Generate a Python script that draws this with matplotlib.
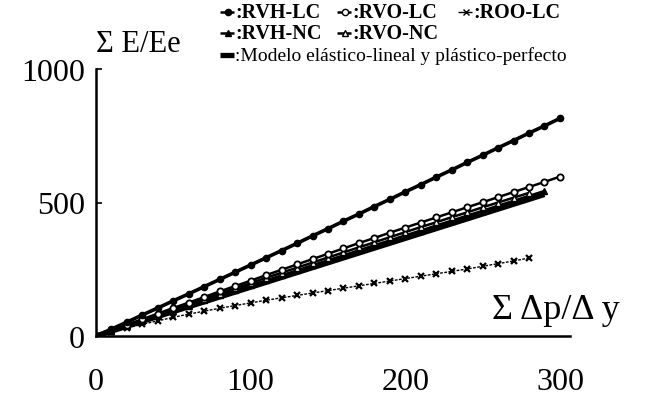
import matplotlib
matplotlib.use("Agg")
import matplotlib.pyplot as plt
from matplotlib.lines import Line2D

plt.rcParams['font.family'] = ['Liberation Serif', 'DejaVu Serif']

# data
x_rvh_lc = list(range(0, 301, 10))
y_rvh_lc = [0, 26, 52, 79, 105, 132, 158, 185, 212, 239, 266, 293, 320, 347, 375, 402,
            430, 457, 485, 512, 540, 567, 595, 622, 650, 677, 705, 732, 760, 787, 815]

x_rvo_lc = list(range(0, 301, 10))
y_rvo_lc = [0, 21, 42, 63, 84, 105, 125, 146, 167, 187, 207, 228, 248, 268, 288, 308,
            328, 348, 367, 387, 406, 425, 444, 463, 482, 501, 520, 539, 558, 577, 597]

x_roo_lc = list(range(0, 281, 10))
y_roo_lc = [0, 15, 30, 44, 57, 70, 82, 93, 104, 114, 124, 134, 143, 152, 161, 170,
            179, 188, 197, 206, 215, 224, 233, 242, 251, 261, 271, 281, 292]

x_rvh_nc = list(range(0, 291, 10))
y_rvh_nc = [0, 19, 38, 57, 76, 95, 114, 133, 152, 171, 190, 208, 227, 246, 265, 284,
            302, 321, 340, 358, 377, 395, 414, 432, 451, 469, 488, 506, 525, 543]

x_rvo_nc = list(range(0, 281, 10))
y_rvo_nc = [0, 20, 40, 60, 80, 100, 120, 140, 159, 179, 198, 218, 237, 256, 275, 294,
            313, 332, 351, 370, 389, 408, 426, 445, 463, 482, 500, 518, 536]

x_model = [0, 290]
y_model = [0, 530]

x_ticks = [0, 100, 200, 300]
y_ticks = [0, 500, 1000]

W, H = 654, 406
fig = plt.figure(figsize=(W / 100, H / 100), dpi=100)

def fx(p):
    return p / W

def fy(p):
    return 1 - p / H

ax = fig.add_axes([fx(96), fy(337), fx(570) - fx(96), fy(70) - fy(337)])

ax.plot(x_model, y_model, color='black', lw=3.8, solid_capstyle='butt')
ax.plot(x_roo_lc, y_roo_lc, color='black', lw=1, ls=(0, (2, 1)), marker='x', ms=4.5, mew=1.6)
ax.plot(x_rvh_nc, y_rvh_nc, color='black', lw=1.8, marker='^', ms=4.5)
ax.plot(x_rvo_nc, y_rvo_nc, color='black', lw=1.8, marker='^', ms=4.5, mfc='white')
ax.plot(x_rvo_lc, y_rvo_lc, color='black', lw=1.8, marker='o', ms=4.5, mfc='white', mew=1.3)
ax.plot(x_rvh_lc, y_rvh_lc, color='black', lw=2.6, marker='o', ms=4.5)

ax.set_xlim(0, 306.5)
ax.set_ylim(0, 1000)
for s in ['top', 'right']:
    ax.spines[s].set_visible(False)
for s in ['left', 'bottom']:
    ax.spines[s].set_linewidth(1.8)

ax.set_xticks(x_ticks)
ax.set_xticklabels([str(v) for v in x_ticks], fontsize=23)
ax.set_yticks(y_ticks)
ax.set_yticklabels([str(v) for v in y_ticks], fontsize=23)
ax.tick_params(axis='x', length=0, pad=22)
ax.tick_params(axis='y', direction='in', length=4, width=1.2, pad=8)

fig.text(fx(96), fy(45), 'Σ E/Ee', fontsize=22, va='center', ha='left')
fig.text(fx(492), fy(311), 'Σ Δp/Δ y', fontsize=26, va='center', ha='left')

# legend drawn by hand to follow the original layout
def legend_item(x, y, marker, mfc, label, bold=True, lw=1.8, size=14.5):
    fig.add_artist(Line2D([fx(x - 8), fx(x), fx(x + 6)], [fy(y)] * 3, transform=fig.transFigure,
                          color='black', lw=lw, marker=marker, ms=4.5, mfc=mfc,
                          markevery=[1] if marker else None, solid_capstyle='butt'))
    fig.text(fx(x + 7), fy(y), label, fontsize=size, va='center', ha='left',
             fontweight='bold' if bold else 'normal')

legend_item(228, 13, 'o', 'black', ':RVH-LC')
legend_item(345, 13, 'o', 'white', ':RVO-LC')
legend_item(466, 13, 'x', 'black', ':ROO-LC', lw=1)
legend_item(228, 34, '^', 'black', ':RVH-NC')
legend_item(345, 34, '^', 'white', ':RVO-NC')
legend_item(228, 56, None, 'black', ':Modelo elástico-lineal y plástico-perfecto',
            bold=False, lw=3.8, size=14)

fig.savefig('out.png', dpi=100)
